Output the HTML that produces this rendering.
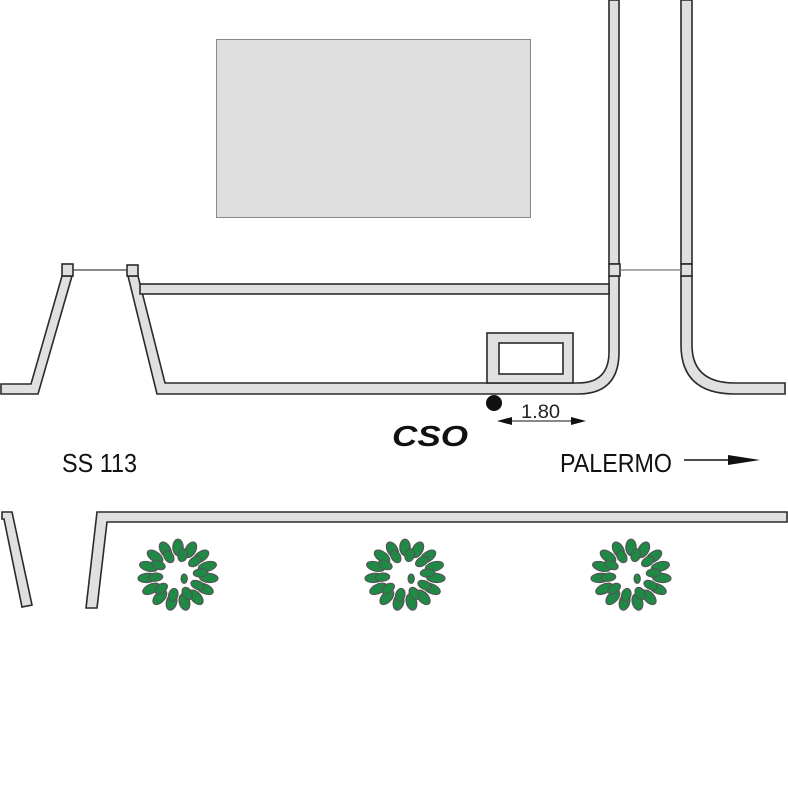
<!DOCTYPE html>
<html><head><style>html,body{margin:0;padding:0;background:#fff}svg{display:block}</style></head>
<body>
<svg width="788" height="788" viewBox="0 0 788 788" xmlns="http://www.w3.org/2000/svg">
<defs>
<g id="bush">
  <g fill="#1e8a45" stroke="#555" stroke-width="1.2">
    <ellipse cx="0" cy="-30" rx="5" ry="9" transform="rotate(0)"/>
    <ellipse cx="0" cy="-30" rx="5" ry="9" transform="rotate(24)"/>
    <ellipse cx="0" cy="-30" rx="5" ry="9" transform="rotate(48)"/>
    <ellipse cx="0" cy="-30" rx="5" ry="9" transform="rotate(72)"/>
    <ellipse cx="0" cy="-30" rx="5" ry="9" transform="rotate(96)"/>
    <ellipse cx="0" cy="-30" rx="5" ry="9" transform="rotate(120)"/>
    <ellipse cx="0" cy="-30" rx="5" ry="9" transform="rotate(144)"/>
    <ellipse cx="0" cy="-30" rx="5" ry="9" transform="rotate(168)"/>
    <ellipse cx="0" cy="-30" rx="5" ry="9" transform="rotate(192)"/>
    <ellipse cx="0" cy="-30" rx="5" ry="9" transform="rotate(216)"/>
    <ellipse cx="0" cy="-30" rx="5" ry="9" transform="rotate(240)"/>
    <ellipse cx="0" cy="-30" rx="5" ry="9" transform="rotate(264)"/>
    <ellipse cx="0" cy="-30" rx="5" ry="9" transform="rotate(288)"/>
    <ellipse cx="0" cy="-30" rx="5" ry="9" transform="rotate(312)"/>
    <ellipse cx="0" cy="-30" rx="5" ry="9" transform="rotate(336)"/>
    <ellipse cx="0" cy="-22" rx="4.5" ry="7" transform="rotate(12)"/>
    <ellipse cx="0" cy="-22" rx="4.5" ry="7" transform="rotate(48)"/>
    <ellipse cx="0" cy="-22" rx="4.5" ry="7" transform="rotate(84)"/>
    <ellipse cx="0" cy="-22" rx="4.5" ry="7" transform="rotate(120)"/>
    <ellipse cx="0" cy="-22" rx="4.5" ry="7" transform="rotate(156)"/>
    <ellipse cx="0" cy="-22" rx="4.5" ry="7" transform="rotate(192)"/>
    <ellipse cx="0" cy="-22" rx="4.5" ry="7" transform="rotate(228)"/>
    <ellipse cx="0" cy="-22" rx="4.5" ry="7" transform="rotate(264)"/>
    <ellipse cx="0" cy="-22" rx="4.5" ry="7" transform="rotate(300)"/>
    <ellipse cx="0" cy="-22" rx="4.5" ry="7" transform="rotate(336)"/>
    <ellipse cx="6" cy="4" rx="3" ry="5"/>
  </g>
</g>
</defs>

<rect x="216.5" y="39.5" width="314" height="178" fill="#dedede" stroke="#888" stroke-width="1"/>

<g fill="#e0e0e0" stroke="#2a2a2a" stroke-width="1.6" stroke-linejoin="miter">
  <polygon points="1,384 31,384 62,276 72,276 38,394 1,394"/>
  <path d="M128,276 L138,276 L165,383 L578,383 Q609,383 609,352 L609,276 L619,276 L619,352 Q619,394 578,394 L157,394 Z"/>
  <rect x="140" y="284" width="469" height="10"/>
  <rect x="609" y="0" width="10" height="264"/>
  <rect x="681" y="0" width="11" height="264"/>
  <path d="M681,276 L692,276 L692,345 Q692,383 735,383 L785,383 L785,394 L735,394 Q681,394 681,345 Z"/>
  <rect x="62" y="264" width="11" height="12"/>
  <rect x="127" y="265" width="11" height="11"/>
  <rect x="609" y="264" width="11" height="12"/>
  <rect x="681" y="264" width="11" height="12"/>
  <rect x="487" y="333" width="86" height="50"/>
  <rect x="499" y="343" width="64" height="31" fill="#fff"/>
  <polygon points="2,512 12,512 32,605 22,607 4,519 2,519"/>
  <polygon points="97,512 787,512 787,522 107,522 97,608 86,608"/>
</g>
<line x1="73" y1="270" x2="127" y2="270" stroke="#444" stroke-width="1.2"/>
<line x1="620" y1="270" x2="681" y2="270" stroke="#777" stroke-width="1.2"/>

<circle cx="494" cy="403" r="8" fill="#111"/>
<line x1="505" y1="421" x2="575" y2="421" stroke="#111" stroke-width="1"/>
<polygon points="497,421 512,417 512,425" fill="#111"/>
<polygon points="586,421 571,417 571,425" fill="#111"/>
<text x="521" y="418" font-family="Liberation Sans, sans-serif" font-size="19" textLength="39" lengthAdjust="spacingAndGlyphs" fill="#222">1.80</text>

<text x="392" y="446" font-family="Liberation Sans, sans-serif" font-size="29" font-weight="bold" font-style="italic" textLength="76" lengthAdjust="spacingAndGlyphs" fill="#111">CSO</text>
<text x="62" y="472" font-family="Liberation Sans, sans-serif" font-size="26" textLength="75" lengthAdjust="spacingAndGlyphs" fill="#111">SS 113</text>
<text x="560" y="472" font-family="Liberation Sans, sans-serif" font-size="26" textLength="112" lengthAdjust="spacingAndGlyphs" fill="#111">PALERMO</text>
<line x1="684" y1="460" x2="735" y2="460" stroke="#111" stroke-width="1.5"/>
<polygon points="760,460 728,455 728,465" fill="#111"/>

<use href="#bush" transform="translate(178,575) scale(1.03,0.92)"/>
<use href="#bush" transform="translate(405,575) scale(1.03,0.92)"/>
<use href="#bush" transform="translate(631,575) scale(1.03,0.92)"/>
</svg>
</body></html>
